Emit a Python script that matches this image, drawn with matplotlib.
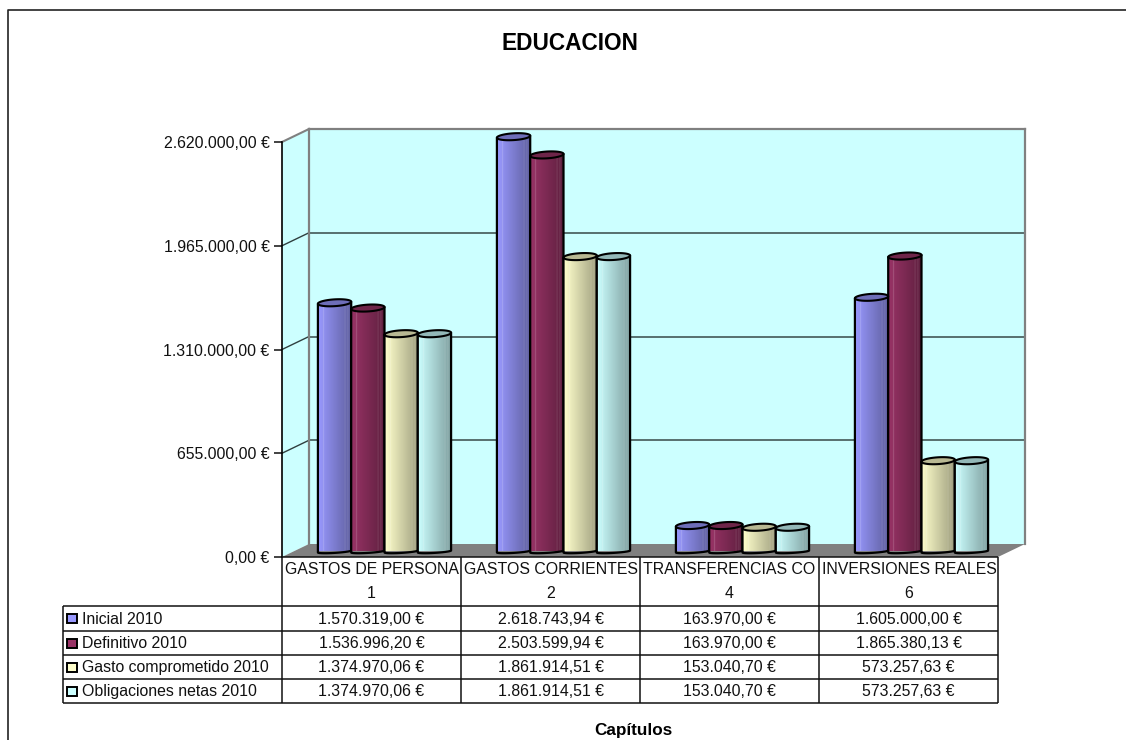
import numpy as np
import matplotlib
matplotlib.use("Agg")
import matplotlib.pyplot as plt
from matplotlib.colors import to_rgb
from matplotlib.patches import Polygon, Rectangle

plt.rcParams['font.family'] = ['Liberation Sans', 'DejaVu Sans']

W, H = 1126, 740

title = "EDUCACION"
xlabel = "Capítulos"
cat_names = ["GASTOS DE PERSONA", "GASTOS CORRIENTES", "TRANSFERENCIAS CO", "INVERSIONES REALES"]
cat_codes = ["1", "2", "4", "6"]
series_names = ["Inicial 2010", "Definitivo 2010", "Gasto comprometido 2010", "Obligaciones netas 2010"]
inicial = [1570319.00, 2618743.94, 163970.00, 1605000.00]
definitivo = [1536996.20, 2503599.94, 163970.00, 1865380.13]
comprometido = [1374970.06, 1861914.51, 153040.70, 573257.63]
obligaciones = [1374970.06, 1861914.51, 153040.70, 573257.63]
series_values = [inicial, definitivo, comprometido, obligaciones]
colors = ["#9999FF", "#993366", "#FFFFCC", "#CCFFFF"]
yticks = [0, 655000, 1310000, 1965000, 2620000]
ymax = 2620000


def money(v):
    s = f"{v:,.2f}".replace(",", "#").replace(".", ",").replace("#", ".")
    return s + " €"


def px_axes(x0, y0, x1, y1, **kw):
    # rect in picture pixels (y down)
    return fig.add_axes([x0 / W, 1 - y1 / H, (x1 - x0) / W, (y1 - y0) / H], **kw)


fig = plt.figure(figsize=(W / 100, H / 100), dpi=100, facecolor="white")

# overlay in pixels for frame, side wall, floor and table
bg = px_axes(0, 0, W, H, zorder=0)
bg.set_xlim(0, W)
bg.set_ylim(H, 0)
bg.axis("off")
bg.plot([8, 8, W], [740, 10, 10], color="#222222", lw=1.2, solid_capstyle="butt")

fx0, fx1, fy0, fy1 = 282, 998, 557, 142
dx, dy = 27, 13
wall = "#CCFFFF"
grey = "#808080"

bg.add_patch(Polygon([(fx0, fy0), (fx0 + dx, fy0 - dy), (fx0 + dx, fy1 - dy), (fx0, fy1)], fc=wall, ec="none"))
bg.add_patch(Polygon([(fx0, fy0), (fx0 + dx, fy0 - dy), (fx1 + dx, fy0 - dy), (fx1, fy0)], fc=grey, ec="none"))
bg.plot([fx0, fx0 + dx], [fy1, fy1 - dy], color=grey, lw=1.5)

# back wall
back = px_axes(fx0 + dx, fy1 - dy, fx1 + dx, fy0 - dy, zorder=1)
back.set_facecolor(wall)
back.set_ylim(0, ymax)
back.set_xlim(0, 4)
back.set_xticks([])
back.set_yticks(yticks[1:-1])
back.tick_params(left=False, labelleft=False)
back.yaxis.grid(True, color="#56706f", lw=1.4)
back.set_axisbelow(True)
for s in ["left", "top", "right"]:
    back.spines[s].set_color(grey)
    back.spines[s].set_linewidth(1.6)
back.spines["bottom"].set_visible(False)

for t in yticks[1:-1]:
    yy = fy0 - (fy0 - fy1) * t / ymax
    bg.plot([fx0, fx0 + dx], [yy, yy - dy], color="#2f3f3f", lw=1.0)

# front plane, carries the value axis
front = px_axes(fx0, fy1, fx1, fy0, zorder=2)
front.patch.set_alpha(0)
front.set_ylim(0, ymax)
front.set_xlim(0, 4)
front.set_xticks([])
front.set_yticks(yticks)
front.set_yticklabels([money(t) for t in yticks], fontsize=11.4, color="#111111")
front.tick_params(axis="y", length=6, width=1.2, pad=3, color="#222222")
for s in ["top", "right", "bottom"]:
    front.spines[s].set_visible(False)
front.spines["left"].set_linewidth(1.2)

# cylinders, half way into the depth
bars = px_axes(fx0 + 13, fy1 - 5.5, fx1 + 13, fy0 - 5.5, zorder=3)
bars.patch.set_alpha(0)
bars.axis("off")
bars.set_xlim(0, 4)
bars.set_ylim(0, ymax)

bar_w = 0.186
unit = ymax / (fy0 - fy1)  # data units for a pixel
ry = 3.4 * unit
ry_bottom = 1.4 * unit
tilt = 1.0 * unit

theta = np.linspace(0, 2 * np.pi, 60)
nx = 120
u = np.linspace(0, 1, nx)


def gradient(color):
    base = np.array(to_rgb(color))
    shade = 1 - 0.38 * u
    img = np.outer(shade, base)
    for pos, amt in [(0.16, 0.22), (0.8, 0.12), (0.88, 0.12)]:
        stripe = np.abs(u - pos) < 0.012
        img[stripe] = img[stripe] + (1 - img[stripe]) * amt
    return img[np.newaxis, :, :]


for i, vals in enumerate(series_values):
    img = gradient(colors[i])
    top_col = np.array(to_rgb(colors[i])) * 0.72
    for j, v in enumerate(vals):
        xc = j + 0.5 + (i - 1.5) * bar_w
        rx = bar_w / 2
        half = np.linspace(np.pi, 2 * np.pi, 30)
        bx = xc + rx * np.cos(half)
        by = ry_bottom * np.sin(half) + tilt * np.cos(half)
        outline = np.vstack([np.column_stack([bx, by]), [xc + rx, v + tilt], [xc - rx, v - tilt]])
        body = Polygon(outline, closed=True, fc="none", ec="black", lw=1.6, zorder=3 + i * 0.1, clip_on=False,
                       joinstyle="round")
        im = bars.imshow(img, extent=(xc - rx, xc + rx, -2 * ry, v + ry), aspect="auto", zorder=2.9 + i * 0.1,
                         interpolation="bilinear")
        bars.add_patch(body)
        im.set_clip_path(Polygon(outline, closed=True, transform=bars.transData))
        cap = Polygon(np.column_stack([xc + rx * np.cos(theta), v + ry * np.sin(theta) + tilt * np.cos(theta)]),
                      closed=True, fc=top_col, ec="black", lw=1.5, zorder=3.05 + i * 0.1, clip_on=False)
        bars.add_patch(cap)
bars.set_xlim(0, 4)
bars.set_ylim(0, ymax)

# data table
tb = px_axes(0, 0, W, H, zorder=4)
tb.set_xlim(0, W)
tb.set_ylim(H, 0)
tb.axis("off")
tb.patch.set_alpha(0)

col_edges = [282, 461, 640, 819, 998]
row_edges = [606, 631, 655, 679, 703]
line = dict(color="#111111", lw=1.1, solid_capstyle="butt")
tb.plot([282, 998], [557, 557], **line)
for x in col_edges:
    tb.plot([x, x], [557, 703], **line)
tb.plot([63, 63], [606, 703], **line)
for y in row_edges:
    tb.plot([63, 998], [y, y], **line)

fs = 11.4
tc = "#111111"
for j in range(4):
    t = tb.text(col_edges[j] + 3, 569, cat_names[j], fontsize=fs, color=tc, ha="left", va="center")
    t.set_clip_path(Rectangle((col_edges[j], 557), 179, 25, transform=tb.transData))
    t.set_clip_on(True)
    tb.text((col_edges[j] + col_edges[j + 1]) / 2, 593, cat_codes[j], fontsize=fs, color=tc, ha="center", va="center")
    for i, vals in enumerate(series_values):
        tb.text((col_edges[j] + col_edges[j + 1]) / 2, (row_edges[i] + row_edges[i + 1]) / 2 + 0.5, money(vals[j]),
                fontsize=fs, color=tc, ha="center", va="center")

for i, name in enumerate(series_names):
    yc = (row_edges[i] + row_edges[i + 1]) / 2
    tb.add_patch(Rectangle((67, yc - 4.5), 10, 9, fc=colors[i], ec="black", lw=1.4))
    tb.text(82, yc + 0.5, name, fontsize=fs, color=tc, ha="left", va="center")

tb.text(570, 43, title, fontsize=16.3, fontweight="bold", ha="center", va="center", color="black")
tb.text(633, 731, xlabel, fontsize=12.3, fontweight="bold", ha="center", va="center", color="black")

fig.savefig("out.png", dpi=100, facecolor="white")
